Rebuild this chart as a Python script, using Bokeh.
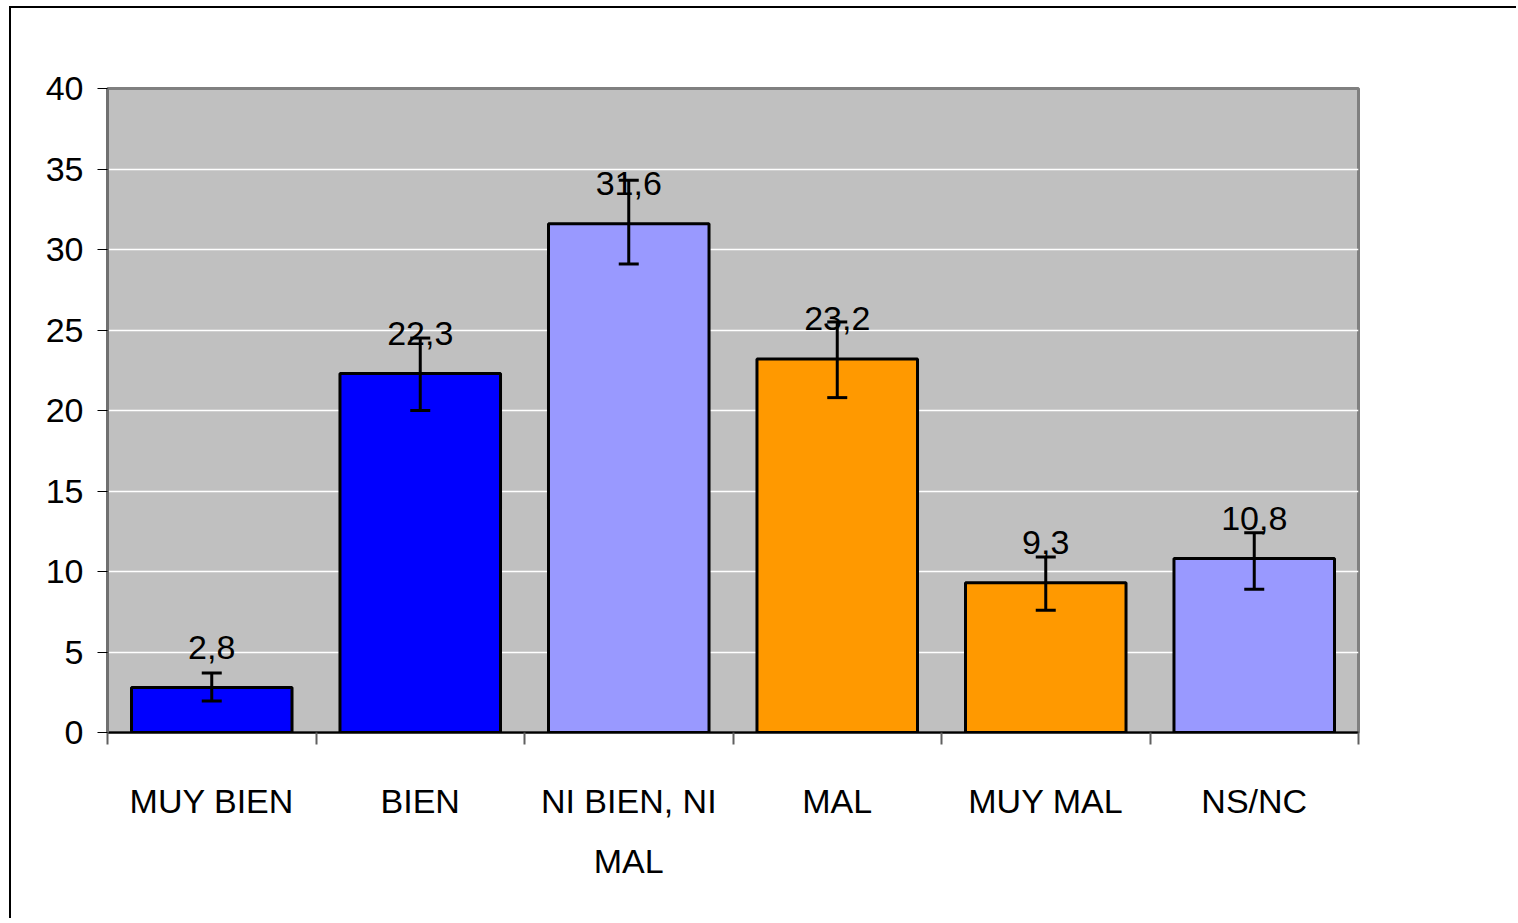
from bokeh.plotting import figure
from bokeh.models import ColumnDataSource, FixedTicker, Range1d, Whisker, TeeHead
from bokeh.core.properties import value
from bokeh.embed import file_html
from bokeh.resources import INLINE

categories = ["MUY BIEN", "BIEN", "NI BIEN, NI\nMAL", "MAL", "MUY MAL", "NS/NC"]
values = [2.8, 22.3, 31.6, 23.2, 9.3, 10.8]
err_low = [1.95, 20.0, 29.1, 20.8, 7.6, 8.9]
err_high = [3.7, 24.5, 34.3, 25.5, 10.9, 12.4]
colors = ["#0000FF", "#0000FF", "#9999FF", "#FF9900", "#FF9900", "#9999FF"]
y_ticks = [0, 5, 10, 15, 20, 25, 30, 35, 40]

FONT = "Liberation Sans"
FS = "34px"

xs = [i + 0.5 for i in range(len(categories))]
labels = [f"{v:.1f}".replace(".", ",") for v in values]

src = ColumnDataSource(dict(x=xs, value=values, lower=err_low, upper=err_high,
                            color=colors, label=labels))

p = figure(width=1507, height=912, output_backend="svg", toolbar_location=None,
           x_range=Range1d(0, len(categories)), y_range=Range1d(0, 40),
           min_border_left=96, min_border_right=160, min_border_top=80,
           min_border_bottom=188)
p.styles = {"border-left": "2px solid black", "border-top": "2px solid black",
            "margin-left": "9px", "margin-top": "6px"}

p.background_fill_color = "#C0C0C0"
p.border_fill_color = "white"
p.outline_line_color = "#808080"
p.outline_line_width = 3

p.vbar(x="x", top="value", width=0.77, source=src, fill_color="color",
       line_color="black", line_width=3)

w = Whisker(base="x", lower="lower", upper="upper", source=src,
            line_color="black", line_width=3, level="overlay",
            upper_head=TeeHead(size=20, line_color="black", line_width=3),
            lower_head=TeeHead(size=20, line_color="black", line_width=3))
p.add_layout(w)

p.text(x="x", y="value", text="label", source=src, y_offset=-40,
       text_align="center", text_baseline="alphabetic",
       text_font=value(FONT), text_font_size=FS, text_color="black")

# y axis
p.yaxis.ticker = FixedTicker(ticks=y_ticks)
p.yaxis.axis_line_color = "#707070"
p.yaxis.axis_line_width = 3
p.yaxis.major_tick_out = 10
p.yaxis.major_tick_in = 0
p.yaxis.major_tick_line_color = "black"
p.yaxis.minor_tick_line_color = None
p.yaxis.major_label_standoff = 14
p.yaxis.major_label_text_font = FONT
p.yaxis.major_label_text_font_size = FS
p.yaxis.major_label_text_color = "black"

# x axis
p.xaxis.ticker = FixedTicker(ticks=xs, minor_ticks=list(range(len(categories) + 1)))
p.xaxis.major_label_overrides = {x: c for x, c in zip(xs, categories)}
p.xaxis.major_tick_out = 0
p.xaxis.major_tick_in = 0
p.xaxis.minor_tick_out = 12
p.xaxis.minor_tick_in = 0
p.xaxis.minor_tick_line_color = "#606060"
p.xaxis.minor_tick_line_width = 2
p.xaxis.axis_line_color = "black"
p.xaxis.axis_line_width = 2
p.xaxis.major_label_standoff = 37
p.xaxis.major_label_text_font = FONT
p.xaxis.major_label_text_font_size = FS
p.xaxis.major_label_text_color = "black"
p.xaxis.major_label_text_line_height = 1.6

p.xgrid.grid_line_color = None
p.ygrid.ticker = FixedTicker(ticks=y_ticks)
p.ygrid.grid_line_color = "white"
p.ygrid.grid_line_width = 1.5

open("out.html", "w").write(file_html(p, INLINE))
